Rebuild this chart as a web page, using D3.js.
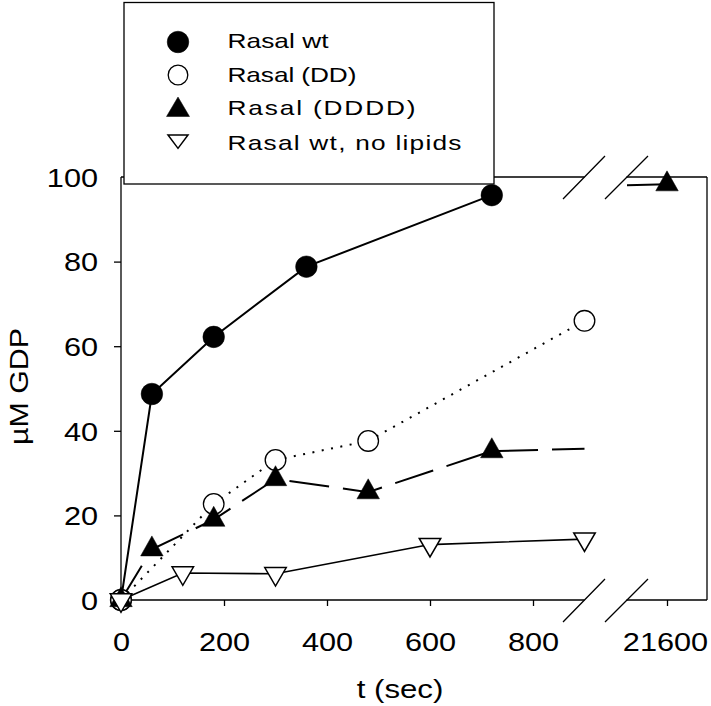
<!DOCTYPE html>
<html><head><meta charset="utf-8">
<script src="https://cdn.jsdelivr.net/npm/d3@7"></script>
<style>body{margin:0;background:#fff}svg{display:block}</style>
</head><body>
<svg id="chart" width="711" height="706"></svg>
<script>
// ---------- data ----------
const seriesNames = ["Rasal wt", "Rasal (DD)", "Rasal (DDDD)", "Rasal wt, no lipids"];
const tWt    = [0, 60, 180, 360, 720];
const gdpWt  = [0, 48.7, 62.2, 78.8, 95.7];
const tDD    = [0, 180, 300, 480, 900];
const gdpDD  = [0, 22.7, 33.1, 37.6, 66.0];
const tDDDD  = [0, 60, 180, 300, 480, 720, 21600];
const gdpDDDD= [0, 12, 19, 28.6, 25.5, 35.2, 98.3];
const tNoLip = [0, 120, 300, 600, 900];
const gdpNoLip=[0, 6.4, 6.2, 13.1, 14.4];
const yTicks = [0, 20, 40, 60, 80, 100];
const xTicksLeft = [0, 200, 400, 600, 800];
const xTicksRight = [21600];
const xTitle = "t (sec)";
const yTitle = "\u00B5M GDP";

// ---------- setup ----------
const FONT = "'Liberation Sans', Arial, Helvetica, sans-serif";
const SX = 1.18;   // horizontal stretch of the reference lettering
const svg = d3.select("#chart");
const x1 = d3.scaleLinear().domain([0, 900]).range([121, 584.5]);
const x2 = d3.scaleLinear().domain([21522.3, 21677.7]).range([627, 707]);
const y = d3.scaleLinear().domain([0, 100]).range([600, 177]);
const xPos = t => (t <= 900 ? x1(t) : x2(t));

function clipSeries(ts, vs, lo, hi) {
  const out = []; let cur = [];
  for (let i = 0; i < ts.length - 1; i++) {
    const a = [ts[i], vs[i]], b = [ts[i + 1], vs[i + 1]];
    const t0 = Math.max(lo, a[0]), t1 = Math.min(hi, b[0]);
    if (t0 > t1) { if (cur.length) { out.push(cur); cur = []; } continue; }
    const f = t => a[1] + (b[1] - a[1]) * (t - a[0]) / (b[0] - a[0]);
    if (!cur.length) cur.push([t0, f(t0)]);
    cur.push([t1, f(t1)]);
    if (t1 < b[0]) { out.push(cur); cur = []; }
  }
  if (cur.length) out.push(cur);
  return out;
}

function upTri(w, h) { return `M0,${-2 * h / 3}L${w / 2},${h / 3}L${-w / 2},${h / 3}Z`; }
function downTri(w, h) { return `M${-w / 2},${-h / 3}L${w / 2},${-h / 3}L0,${2 * h / 3}Z`; }

const series = [
  { name: seriesNames[0], t: tWt, v: gdpWt, lw: 2, dash: null, marker: "circle", fill: "#000" },
  { name: seriesNames[1], t: tDD, v: gdpDD, lw: 2, dash: "2,7.5", marker: "circle", fill: "#fff" },
  { name: seriesNames[2], t: tDDDD, v: gdpDDDD, lw: 2, dash: "40,14", marker: "up", fill: "#000" },
  { name: seriesNames[3], t: tNoLip, v: gdpNoLip, lw: 1.6, dash: null, marker: "down", fill: "#fff" }
];

// ---------- frame ----------
const frame = svg.append("g").attr("fill", "none").attr("stroke", "#000").attr("stroke-width", 1.3);
frame.append("path").attr("d", "M121,600V177");
frame.append("path").attr("d", "M121,177H584.5M626.5,177H707");
frame.append("path").attr("d", "M707,177V600");
frame.append("path").attr("d", "M121,600H584.5M626.5,600H707");
frame.append("path").attr("d", "M563,622L605,579M605,622L648,579M563,199L605,156M605,199L648,156");

// ---------- axes ----------
const yAxis = svg.append("g").attr("transform", "translate(121,0)")
  .call(d3.axisLeft(y).tickValues(yTicks).tickSize(7).tickFormat(d3.format("d")));
yAxis.select(".domain").remove();
yAxis.selectAll(".tick").filter(d => d === 100).select("line").remove();
yAxis.selectAll("line").attr("stroke-width", 1.3);
yAxis.selectAll("text").attr("x", 0).attr("dy", "0.36em")
  .attr("transform", `translate(-23,0) scale(${SX},1)`)
  .style("font-family", FONT).style("font-size", "26px").attr("fill", "#000");

function bottomAxis(scale, ticks) {
  const g = svg.append("g").attr("transform", "translate(0,600)")
    .call(d3.axisBottom(scale).tickValues(ticks).tickSize(6).tickFormat(d3.format("d")));
  g.select(".domain").remove();
  g.selectAll("line").attr("stroke-width", 1.3);
  g.selectAll("text").attr("y", 0).attr("dy", 0)
    .attr("transform", `translate(0,51) scale(${SX},1)`)
    .style("font-family", FONT).style("font-size", "26px").attr("fill", "#000");
  return g;
}
bottomAxis(x1, xTicksLeft);
const gR = bottomAxis(x2, xTicksRight);
gR.selectAll("text").attr("transform", `translate(-2,51) scale(${SX},1)`);

svg.append("text").attr("transform", `translate(400,698) scale(1.2,1)`).attr("text-anchor", "middle")
  .style("font-family", FONT).style("font-size", "26px").text(xTitle);
svg.append("text").attr("transform", "translate(28,386.5) rotate(-90) scale(1.17,1)").attr("text-anchor", "middle")
  .style("font-family", FONT).style("font-size", "26px").text(yTitle);

// ---------- lines ----------
const segs = [{ sc: x1, lo: 0, hi: 900 }, { sc: x2, lo: 21522.3, hi: 21677.7 }];
series.forEach(s => {
  segs.forEach(seg => {
    const line = d3.line().x(d => seg.sc(d[0])).y(d => y(d[1]));
    clipSeries(s.t, s.v, seg.lo, seg.hi).forEach(pl => {
      svg.append("path").attr("d", line(pl)).attr("fill", "none").attr("stroke", "#000")
        .attr("stroke-width", s.lw).attr("stroke-dasharray", s.dash);
    });
  });
});

// ---------- markers ----------
function drawMarker(g, s, cx, cy, legend) {
  if (s.marker === "circle") {
    g.append("circle").attr("cx", cx).attr("cy", cy).attr("r", s.fill === "#000" ? 10.8 : (legend ? 9.8 : 10.3))
      .attr("fill", s.fill).attr("stroke", "#000").attr("stroke-width", s.fill === "#000" ? 0.5 : 1.3);
  } else if (s.marker === "up") {
    g.append("path").attr("transform", `translate(${cx},${cy})`).attr("d", legend ? upTri(23, 19.5) : upTri(22.5, 20))
      .attr("fill", "#000").attr("stroke", "#000").attr("stroke-width", 0.5);
  } else {
    g.append("path").attr("transform", `translate(${cx},${cy})`).attr("d", legend ? downTri(20, 13.3) : downTri(21.5, 18.5))
      .attr("fill", "#fff").attr("stroke", "#000").attr("stroke-width", 1.5).attr("stroke-linejoin", "miter");
  }
}
const mk = svg.append("g");
series.forEach(s => {
  s.t.forEach((t, i) => drawMarker(mk, s, xPos(t), y(s.v[i]), false));
});

// ---------- legend ----------
const lg = svg.append("g");
lg.append("rect").attr("x", 124).attr("y", 2.5).attr("width", 370).attr("height", 181.5)
  .attr("fill", "#fff").attr("stroke", "#000").attr("stroke-width", 1.3);
const legSymY = [42, 75, 110, 139.5];
const legTextY = [48.3, 81.7, 115.3, 150];
const legLen = [101, 129, 188, 234];
const LSX = 1.25;
series.forEach((s, i) => {
  drawMarker(lg, s, 178, legSymY[i], true);
  lg.append("text").attr("transform", `translate(227.5,${legTextY[i]}) scale(${LSX},1)`)
    .attr("textLength", legLen[i] / LSX).attr("lengthAdjust", "spacing")
    .style("font-family", FONT).style("font-size", "21px").text(s.name);
});
</script>
</body></html>
